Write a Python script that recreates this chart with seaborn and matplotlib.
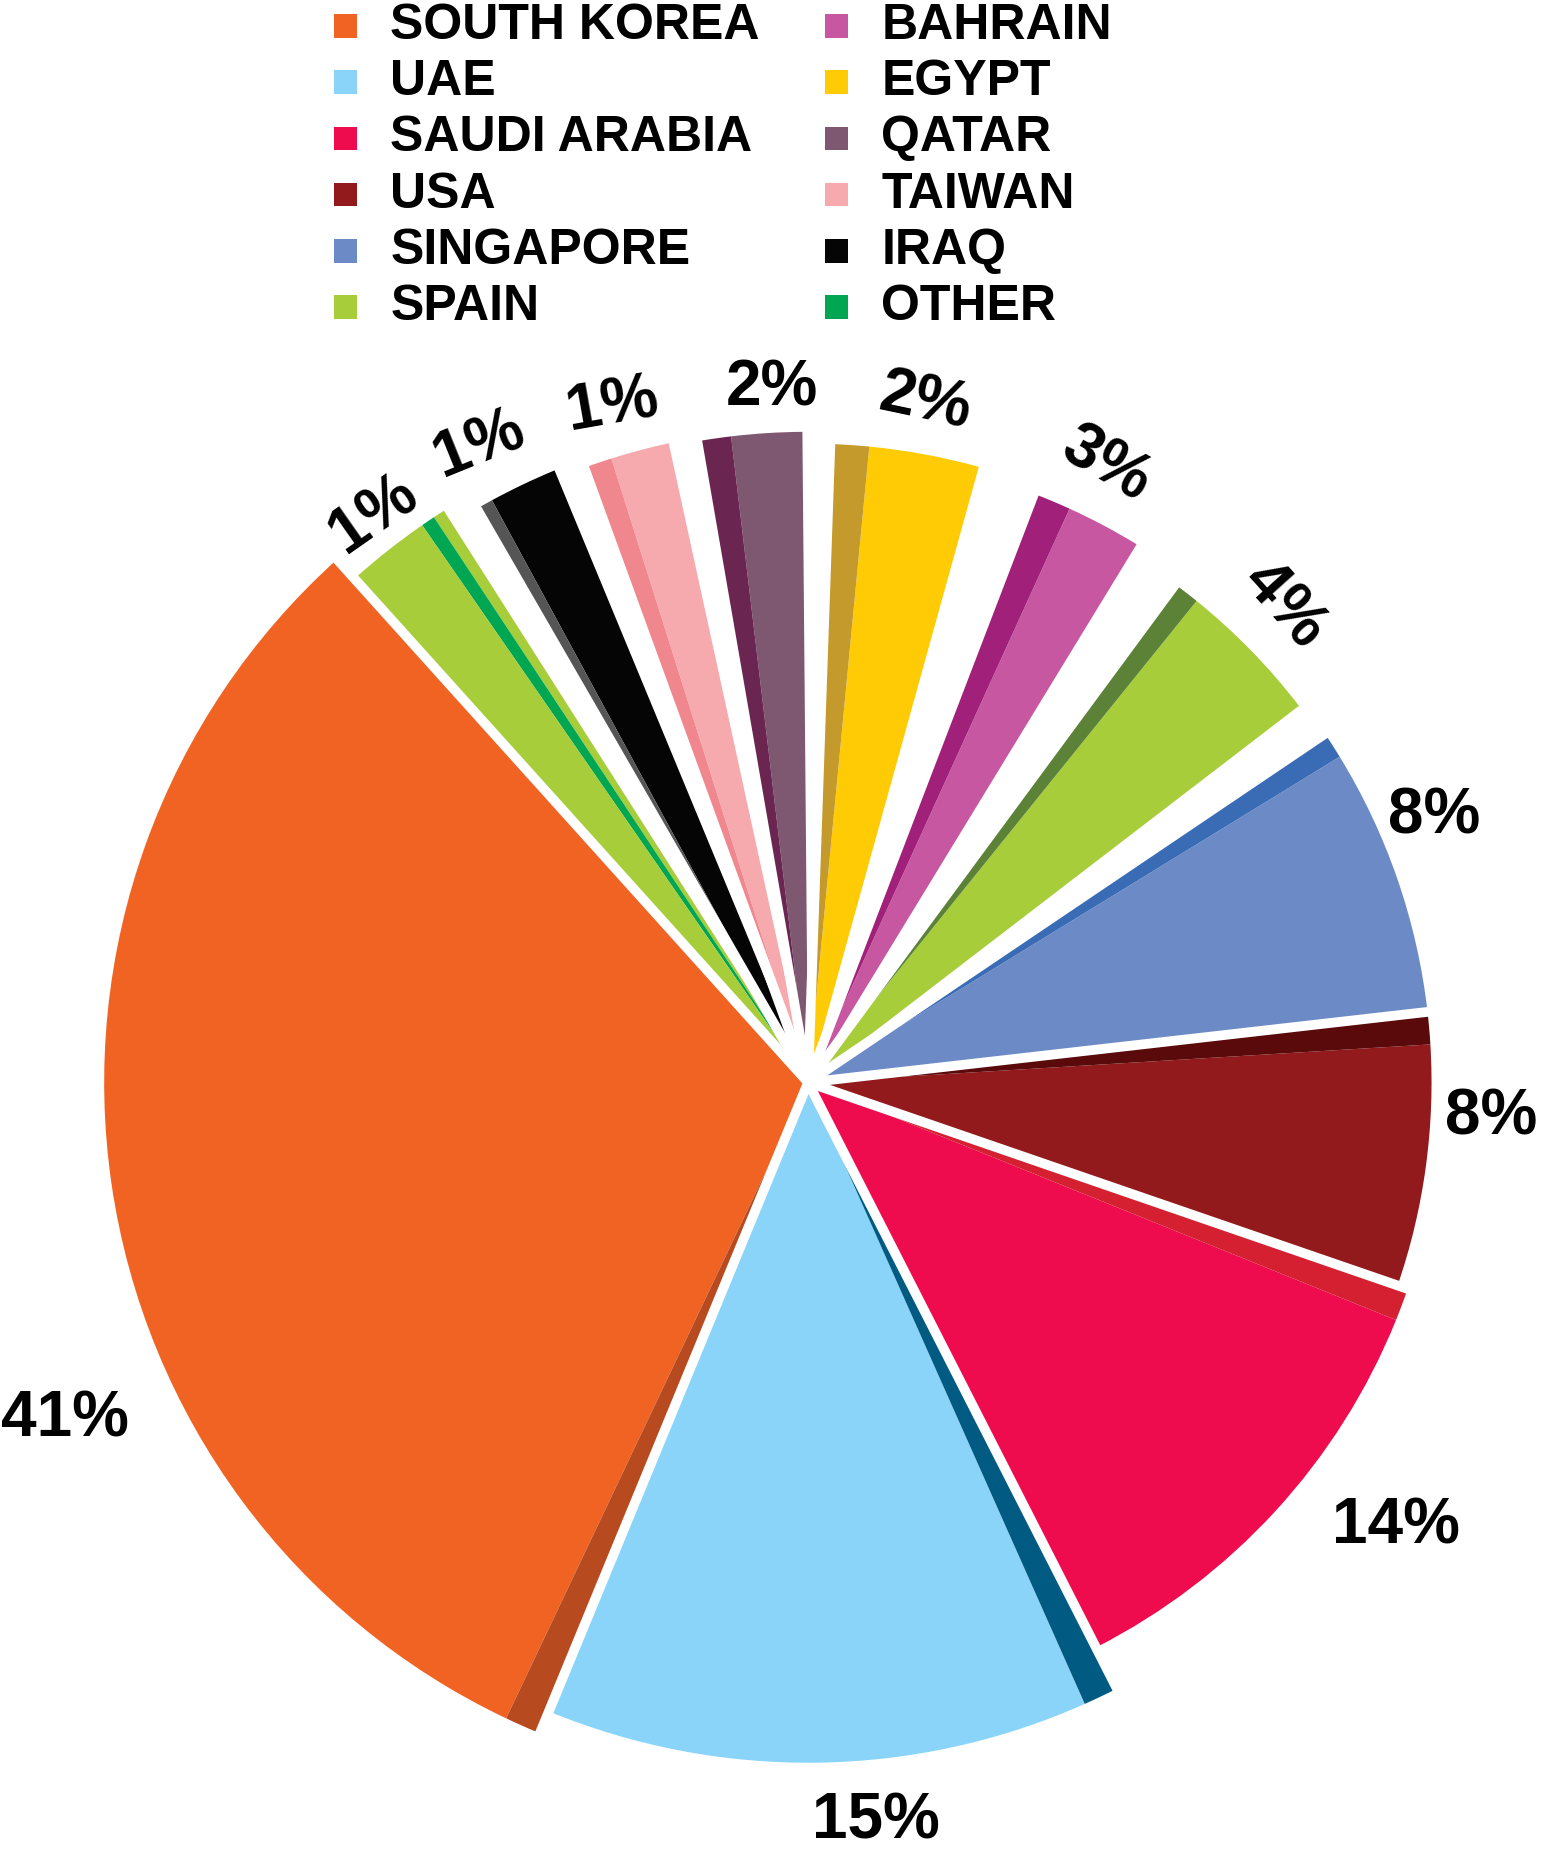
import matplotlib
matplotlib.use("Agg")
import matplotlib.pyplot as plt
import seaborn as sns
import numpy as np
from matplotlib.patches import Rectangle

sns.set_theme(style="white")
plt.rcParams['font.family'] = ['Liberation Sans', 'DejaVu Sans']

categories = ["SOUTH KOREA", "UAE", "SAUDI ARABIA", "USA", "SINGAPORE", "SPAIN",
              "BAHRAIN", "EGYPT", "QATAR", "TAIWAN", "IRAQ", "OTHER"]
# wedge spans (degrees, counter-clockwise from South Korea)
spans = [115.6, 49.4, 44.0, 25.5, 27.5, 19.6, 15.4, 19.0, 11.8, 10.2, 10.0, 12.0]
labels = ["41%", "15%", "14%", "8%", "8%", "4%", "3%", "2%", "2%", "1%", "1%", "1%"]
legend_colors = ["#f06322", "#89d4f8", "#ee0c4e", "#921a1c", "#6c8bc6", "#a8cd3a",
                 "#c757a0", "#ffcb05", "#7e5870", "#f6aaad", "#050505", "#00a651"]
main_colors = ["#f06322", "#89d4f8", "#ee0c4e", "#921a1c", "#6c8bc6", "#a8cd3a",
               "#c757a0", "#ffcb05", "#7e5870", "#f6aaad", "#050505", "#a8cd3a"]
dark_colors = ["#b84a20", "#005a82", "#d42030", "#5a0a0a", "#3a6bb5", "#5b8236",
               "#a0207a", "#c49a2c", "#6a2550", "#f0868e", "#555555", "#00a651"]
radii = [595, 575, 536, 527, 527, 523, 533, 540, 550, 553, 560, 573]
sliver = [3.0, 3.0, 3.0, 3.0, 2.5, 2.5, 3.5, 3.5, 3.0, 2.5, 1.5, 1.2]
gaps = [0, 0, 0, 0, 0, 3.5, 5.0, 5.5, 2.5, 2.5, 2.5, 2.5]

W, H = 1305, 1568
fig = plt.figure(figsize=(15.44, 18.55), dpi=100)
ax = fig.add_axes([0, 0, 1, 1])
cx, cy = 683, H - 915

vals, cols, rads = [], [], []
for i in range(len(categories)):
    g = gaps[i]
    if g:
        vals.append(g); cols.append("white"); rads.append(10)
    body = spans[i] - g
    if i == 11:
        vals += [1.0, sliver[i], body - sliver[i] - 1.0]
        cols += [main_colors[i], dark_colors[i], main_colors[i]]
        rads += [radii[i]] * 3
    else:
        vals += [body - sliver[i], sliver[i]]
        cols += [main_colors[i], dark_colors[i]]
        rads += [radii[i]] * 2

wedges, _ = ax.pie(vals, colors=cols, startangle=132, counterclock=True,
                   center=(cx, cy), radius=1, frame=True,
                   wedgeprops=dict(linewidth=0))
for w, r, c in zip(wedges, rads, cols):
    w.set_radius(r)
    if c == "white":
        w.set_visible(False)

ang = 132
for i in range(len(categories)):
    a = np.deg2rad(ang)
    ax.plot([cx, cx + 620 * np.cos(a)], [cy, cy + 620 * np.sin(a)],
            color="white", lw=7, solid_capstyle="butt")
    ang += spans[i]

ax.set_xlim(0, W)
ax.set_ylim(0, H)
ax.set_aspect("equal")
ax.axis("off")

label_pos = [(55, 1200, 0), (740, 1540, 0), (1180, 1290, 0), (1260, 945, 0),
             (1212, 690, 0), (1085, 512, -48), (935, 393, -30), (782, 340, -12),
             (652, 328, 0), (518, 343, 10), (405, 376, 22), (316, 435, 35)]
for lab, (x, y, rot) in zip(labels, label_pos):
    ax.text(x, H - y, lab, fontsize=46, fontweight="bold", ha="center",
            va="center", rotation=rot, color="black")

for i, (name, c) in enumerate(zip(categories, legend_colors)):
    col, row = divmod(i, 6)
    x0 = 282 if col == 0 else 697
    y0 = 22 + row * 47.5
    ax.add_patch(Rectangle((x0, H - y0 - 10), 20, 20, color=c, lw=0))
    ax.text(x0 + 48, H - y0, name, fontsize=36, fontweight="bold",
            va="center", ha="left", color="black")

fig.savefig("out.png", dpi=100, facecolor="white")
